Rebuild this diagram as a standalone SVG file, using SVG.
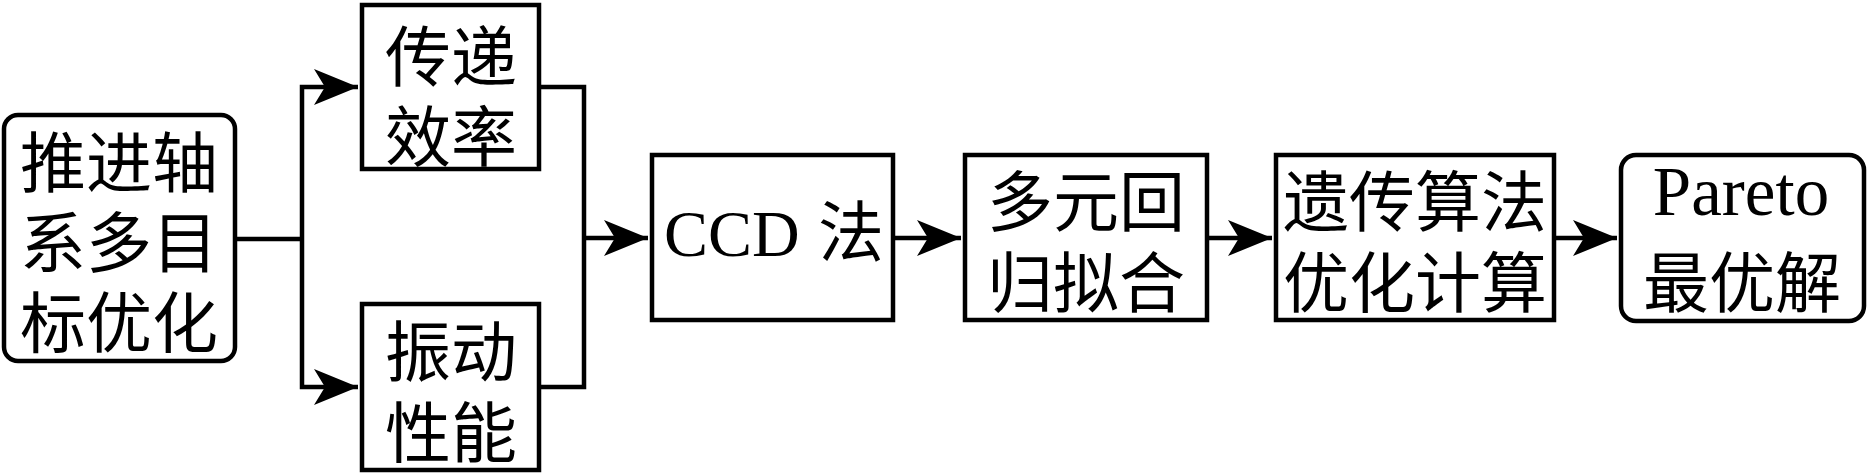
<svg xmlns="http://www.w3.org/2000/svg" width="1869" height="474" viewBox="0 0 1869 474">
<style>
.box{fill:#fff;stroke:#000;stroke-width:4.5}
.ln{fill:none;stroke:#000;stroke-width:4.5}
.t{font-family:"Liberation Serif","Noto Sans CJK SC",serif;font-size:66px;fill:#000;text-anchor:middle}
.lat{font-size:69px}
</style>
<defs>
<marker id="ah" markerUnits="userSpaceOnUse" markerWidth="50" markerHeight="40" viewBox="-44 -20 46 40" refX="0" refY="0" orient="auto">
<path d="M0,0 L-44,-18 L-33,0 L-44,18 Z" fill="#000"/>
</marker>
</defs>
<rect width="1869" height="474" fill="#fff"/>
<g id="connectors">
<path class="ln" d="M237,239 H302"/>
<path class="ln" d="M302,239 V87 H358" marker-end="url(#ah)"/>
<path class="ln" d="M302,239 V387 H358" marker-end="url(#ah)"/>
<path class="ln" d="M541,87 H584 V387 H541"/>
<path class="ln" d="M584,238 H648" marker-end="url(#ah)"/>
<path class="ln" d="M895,238 H961" marker-end="url(#ah)"/>
<path class="ln" d="M1209,238 H1272" marker-end="url(#ah)"/>
<path class="ln" d="M1556,238 H1617" marker-end="url(#ah)"/>
</g>
<g id="n-start">
<rect class="box" x="4" y="115" width="231" height="246" rx="14"/>
<text class="t" x="119" y="187">推进轴</text>
<text class="t" x="119" y="267">系多目</text>
<text class="t" x="119" y="347">标优化</text>
</g>
<g id="n-eff">
<rect class="box" x="362" y="5" width="177" height="164"/>
<text class="t" x="451" y="81">传递</text>
<text class="t" x="451" y="161">效率</text>
</g>
<g id="n-vib">
<rect class="box" x="362" y="304" width="177" height="166"/>
<text class="t" x="451" y="376">振动</text>
<text class="t" x="451" y="457">性能</text>
</g>
<g id="n-ccd">
<rect class="box" x="652" y="155" width="241" height="165"/>
<text class="t" style="text-anchor:start" y="256"><tspan x="664">CCD</tspan><tspan x="818">法</tspan></text>
</g>
<g id="n-reg">
<rect class="box" x="965" y="155" width="242" height="165"/>
<text class="t" x="1086" y="226">多元回</text>
<text class="t" x="1086" y="307">归拟合</text>
</g>
<g id="n-ga">
<rect class="box" x="1276" y="155" width="278" height="165"/>
<text class="t" x="1415" y="226">遗传算法</text>
<text class="t" x="1415" y="307">优化计算</text>
</g>
<g id="n-pareto">
<rect class="box" x="1621" y="155" width="243" height="166" rx="15"/>
<text class="t lat" x="1741" y="215">Pareto</text>
<text class="t" x="1742" y="307">最优解</text>
</g>
</svg>
